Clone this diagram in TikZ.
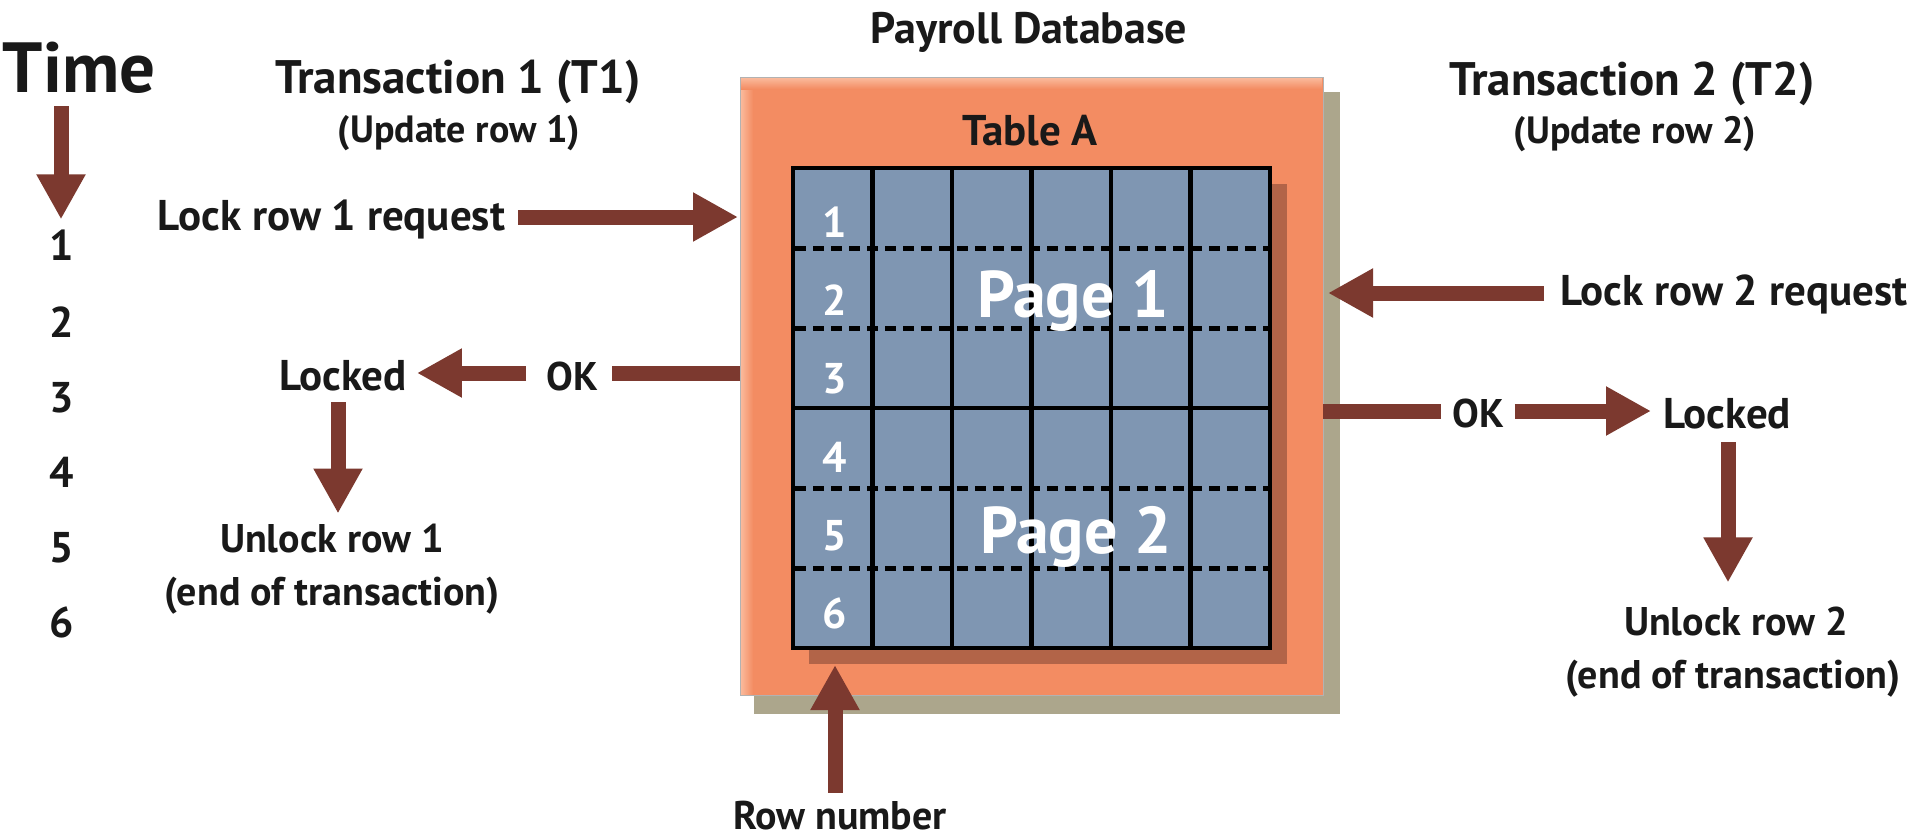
\documentclass[tikz,border=0pt]{standalone}
\usepackage{fontspec}
\setmainfont{PT Sans}
\usetikzlibrary{arrows.meta,calc}
\definecolor{ink}{RGB}{25,25,25}
\definecolor{arrowc}{RGB}{124,57,47}
\definecolor{orangec}{RGB}{243,140,98}
\definecolor{orangelight}{RGB}{250,185,155}
\definecolor{orangedark}{RGB}{178,100,72}
\definecolor{khaki}{RGB}{172,166,140}
\definecolor{gridblue}{RGB}{127,150,178}
\tikzset{
  txt/.style={inner sep=0pt, outer sep=0pt, text=ink, font=\bfseries\fontsize{#1}{#1}\selectfont},
  arr/.style={draw=arrowc, line width=15pt, -{Triangle[length=45pt,width=46pt]}},
  bar/.style={draw=arrowc, line width=15pt},
  gridline/.style={draw=black, line width=4.5pt},
  dashline/.style={draw=black, line width=5pt, dash pattern=on 11pt off 7pt},
  rowlab/.style={txt=43, text=white, anchor=base},
  pagelab/.style={txt=66, text=white, anchor=base}
}
\begin{document}
\begin{tikzpicture}[x=1pt,y=-1pt]
\useasboundingbox[fill=white] (0,0) rectangle (1920,838);

% ---- database box ----
\fill[khaki] (754,92) rectangle (1340,714);
\node[fill=orangec, draw=gray!60, line width=1pt, minimum width=583pt, minimum height=618pt,
      anchor=north west, inner sep=0pt, outer sep=0pt] (box) at (740,77) {};
\shade[left color=orangelight, right color=orangec] (741,78) rectangle (753,694);
\shade[top color=orangelight, bottom color=orangec] (741,78) rectangle (1322,89);

% grid shadow and grid
\fill[orangedark] (809,184) rectangle (1287,664);
\node[fill=gridblue, minimum width=477pt, minimum height=480pt, anchor=north west,
      inner sep=0pt, outer sep=0pt] (grid) at (793,168) {};
\foreach \y in {248,328,488,568} \draw[dashline] (795,\y) -- (1268,\y);
\draw[gridline] (793,408) -- (1270,408);
\foreach \i in {1,...,5} \draw[gridline] ({793+79.5*\i},168) -- ({793+79.5*\i},648);
\draw[draw=black, line width=4.5pt] (grid.north west) rectangle (grid.south east);

% row numbers and page labels
\node[rowlab] (r1) at (835,237) {1};
\node[rowlab] (r2) at (835,315) {2};
\node[rowlab] (r3) at (835,393) {3};
\node[rowlab] (r4) at (835,472) {4};
\node[rowlab] (r5) at (835,550) {5};
\node[rowlab] (r6) at (835,628) {6};
\node[pagelab] (p1) at (1073,317) {Page 1};
\node[pagelab] (p2) at (1076,553) {Page 2};

% ---- titles ----
\node[txt=44, anchor=base] (payroll) at (1029,43) {Payroll Database};
\node[txt=43, anchor=base] (tablea) at (1030,145) {Table A};
\node[txt=71, anchor=base] (time) at (79,92) {Time};
\node[txt=47, anchor=base] (t1) at (458,93) {Transaction 1 (T1)};
\node[txt=38, anchor=base] (u1) at (459,142) {(Update row 1)};
\node[txt=47, anchor=base] (t2) at (1632,95) {Transaction 2 (T2)};
\node[txt=38, anchor=base] (u2) at (1635,143) {(Update row 2)};

% time numbers
\node[txt=43, anchor=base] (n1) at (62,260) {1};
\node[txt=43, anchor=base] (n2) at (62,337) {2};
\node[txt=43, anchor=base] (n3) at (62,412) {3};
\node[txt=43, anchor=base] (n4) at (62,487) {4};
\node[txt=43, anchor=base] (n5) at (62,562) {5};
\node[txt=43, anchor=base] (n6) at (62,637) {6};

% ---- T1 side ----
\node[txt=43, anchor=base east] (lock1) at (505,230) {Lock row 1 request};
\node[txt=40, anchor=base] (okL) at (572,390) {OK};
\node[txt=43, anchor=base] (lockL) at (343,390) {Locked};
\node[txt=40, anchor=base] (unl1) at (332,552) {Unlock row 1};
\node[txt=40, anchor=base] (end1) at (332,605) {(end of transaction)};

% ---- T2 side ----
\node[txt=43, anchor=base west] (lock2) at (1560,305) {Lock row 2 request};
\node[txt=40, anchor=base] (okR) at (1478,427) {OK};
\node[txt=43, anchor=base] (lockR) at (1727,428) {Locked};
\node[txt=40, anchor=base] (unl2) at (1736,635) {Unlock row 2};
\node[txt=40, anchor=base] (end2) at (1733,688) {(end of transaction)};

\node[txt=40, anchor=base] (rownum) at (840,829) {Row number};

% ---- connectors ----
\draw[arr] ($(n1.base |- time.base)+(-1,14)$) -- ($(n1.north)+(-1,-10)$);
\draw[arr] ($(lock1.base east)+(13,-13)$) -- ($(lock1.base east -| box.west)+(-2,-13)$);
\draw[bar] ($(okL.base east -| box.west)+(0,-17)$) -- ($(okL.base east)+(14,-17)$);
\draw[arr] ($(okL.base west)+(-20,-17)$) -- ($(lockL.base east)+(10,-17)$);
\draw[arr] ($(lockL.base)+(-5,12)$) -- ($(lockL.base |- unl1.north)+(-5,-10)$);

\draw[arr] ($(lock2.base west)+(-16,-12)$) -- ($(lock2.base west -| box.east)+(5,-12)$);
\draw[bar] ($(okR.base west -| box.east)+(0,-16)$) -- ($(okR.base west)+(-11,-16)$);
\draw[arr] ($(okR.base east)+(11,-16)$) -- ($(lockR.base west)+(-12,-17)$);
\draw[arr] ($(lockR.base)+(1,14)$) -- ($(lockR.base |- unl2.north)+(1,-24)$);

\draw[arr] ($(rownum.north)+(-5,-8)$) -- ($(rownum.north |- grid.south)+(-5,17)$);
\end{tikzpicture}
\end{document}
